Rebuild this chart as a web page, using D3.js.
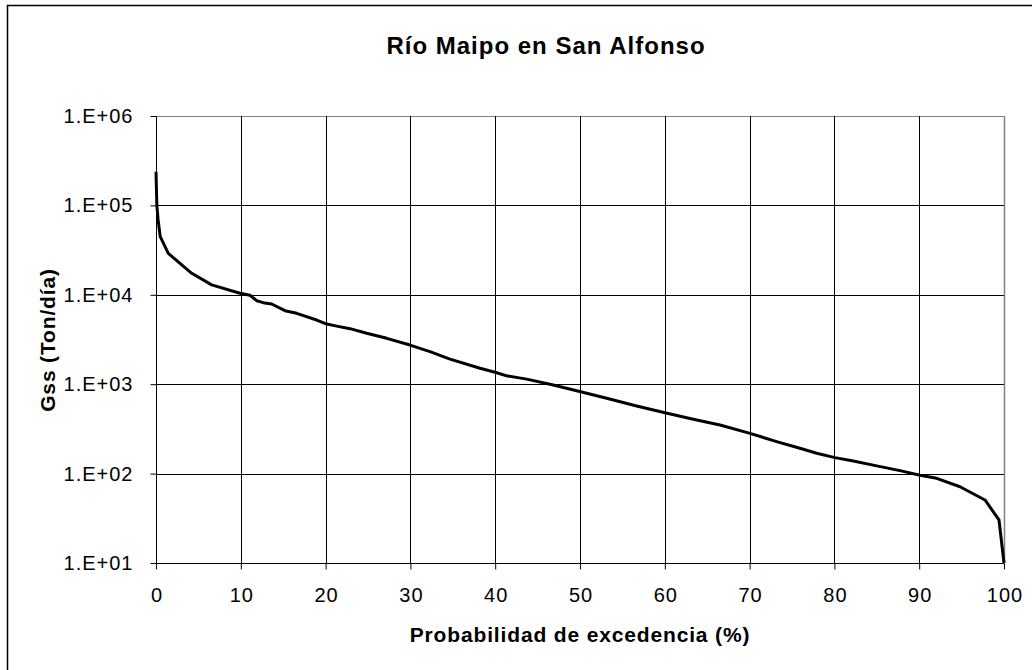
<!DOCTYPE html>
<html>
<head>
<meta charset="utf-8">
<script src="https://cdn.jsdelivr.net/npm/d3@7"></script>
<style>
  body { margin: 0; background: #fff; }
  text { font-family: "Liberation Sans", Arial, sans-serif; fill: #000; }
</style>
</head>
<body>
<div id="chart"></div>
<script>
// probability of exceedance (%) and sediment load (Ton/día)
const probabilidad = [0, 0.1, 0.25, 0.5, 1.45, 2.83, 4.21, 6.57, 9.9, 11.08, 11.87, 12.65, 13.64,
  15.21, 16.59, 18.95, 20.13, 21.31, 22.88, 24.85, 27.21, 29.95, 32.31, 34.67, 38.21, 40.09,
  41.35, 43.71, 46.85, 50.08, 53.15, 56.68, 60.02, 63.36, 66.51, 70.05, 73.19, 75.94, 77.91,
  80.07, 82.23, 84.99, 87.74, 90.09, 92.06, 94.81, 97.76, 99.41, 100];
const gss = [238000, 100000, 68700, 44700, 29100, 22500, 17400, 12900, 10400, 9890, 8590, 8170, 7890,
  6640, 6210, 5220, 4710, 4460, 4180, 3710, 3260, 2740, 2310, 1910, 1510, 1350,
  1240, 1140, 980, 824, 695, 570, 480, 405, 350, 282, 228, 192, 169,
  151, 138, 122, 108, 96, 88.5, 71.3, 50.7, 30.3, 10];
const xTicks = [0, 10, 20, 30, 40, 50, 60, 70, 80, 90, 100];
const yTicks = [1e1, 1e2, 1e3, 1e4, 1e5, 1e6];

const width = 1032, height = 670;
const plotLeft = 156, plotRight = 1004, plotTop = 116, plotBottom = 563;

const svg = d3.select("#chart").append("svg")
  .attr("width", width)
  .attr("height", height);

// outer chart border (only top and left visible in the crop)
svg.append("rect")
  .attr("x", 7.5).attr("y", 5.5)
  .attr("width", width + 20).attr("height", height + 20)
  .attr("fill", "none")
  .attr("stroke", "#000")
  .attr("stroke-width", 1.5);

const x = d3.scaleLinear().domain([0, 100]).range([plotLeft, plotRight]);
const y = d3.scaleLog().domain([10, 1e6]).range([plotBottom, plotTop]);

// gridlines
svg.append("g")
  .selectAll("line")
  .data(yTicks)
  .enter()
  .append("line")
  .attr("x1", plotLeft).attr("x2", plotRight)
  .attr("y1", d => Math.round(y(d)) + 0.5)
  .attr("y2", d => Math.round(y(d)) + 0.5)
  .attr("stroke", d => d === 1e6 ? "#808080" : "#000")
  .attr("stroke-width", 1);

svg.append("g")
  .selectAll("line")
  .data(xTicks)
  .enter()
  .append("line")
  .attr("y1", plotTop).attr("y2", plotBottom)
  .attr("x1", d => Math.round(x(d)) + 0.5)
  .attr("x2", d => Math.round(x(d)) + 0.5)
  .attr("stroke", d => d === 100 ? "#808080" : "#000")
  .attr("stroke-width", d => d === 100 ? 1.5 : 1);

// axes
const fmt = d => "1.E+" + String(Math.round(Math.log10(d))).padStart(2, "0");

const yAxis = svg.append("g")
  .attr("transform", "translate(" + (plotLeft + 0.5) + ",0)")
  .call(d3.axisLeft(y).tickValues(yTicks).tickFormat(fmt).tickSize(6).tickPadding(17));
yAxis.select(".domain").attr("stroke", "#000").attr("d", "M0," + plotTop + "V" + plotBottom);
yAxis.selectAll("text").style("font-size", "20px").style("letter-spacing", "1px");

const xAxis = svg.append("g")
  .attr("transform", "translate(0," + (plotBottom + 0.5) + ")")
  .call(d3.axisBottom(x).tickValues(xTicks).tickSize(6).tickPadding(18));
xAxis.select(".domain").attr("stroke", "#000").attr("d", "M" + plotLeft + ",0H" + plotRight);
xAxis.selectAll("text").style("font-size", "20px").style("letter-spacing", "1px")
  .attr("dx", "0.5px");

// curve
svg.append("path")
  .datum(probabilidad.map((p, i) => [p, gss[i]]))
  .attr("fill", "none")
  .attr("stroke", "#000")
  .attr("stroke-width", 3)
  .attr("stroke-linejoin", "round")
  .attr("d", d3.line().x(d => x(d[0])).y(d => y(d[1])));

// titles
svg.append("text")
  .attr("x", 546).attr("y", 54)
  .attr("text-anchor", "middle")
  .style("font-size", "24px")
  .style("font-weight", "bold")
  .style("letter-spacing", "1px")
  .text("Río Maipo en San Alfonso");

svg.append("text")
  .attr("x", 580).attr("y", 642)
  .attr("text-anchor", "middle")
  .style("font-size", "21px")
  .style("font-weight", "bold")
  .style("letter-spacing", "0.85px")
  .text("Probabilidad de excedencia (%)");

svg.append("text")
  .attr("transform", "translate(55,340) rotate(-90)")
  .attr("text-anchor", "middle")
  .style("font-size", "21px")
  .style("font-weight", "bold")
  .style("letter-spacing", "0.85px")
  .text("Gss (Ton/día)");
</script>
</body>
</html>
